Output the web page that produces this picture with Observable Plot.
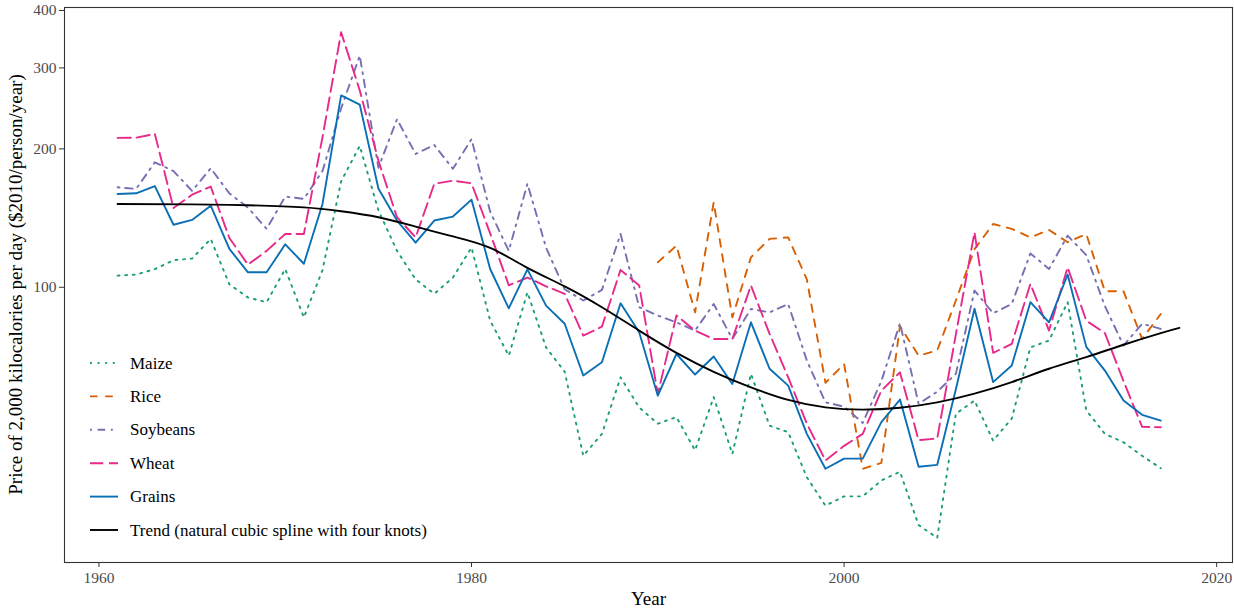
<!DOCTYPE html>
<html>
<head>
<meta charset="utf-8">
<script src="https://cdn.jsdelivr.net/npm/d3@7"></script>
<script src="https://cdn.jsdelivr.net/npm/@observablehq/plot@0.6"></script>
<style>
  html, body { margin: 0; padding: 0; background: #fff; }
  #chart { width: 1234px; height: 609px; }
</style>
</head>
<body>
<div id="chart"></div>
<script>
// ---- data ----
const years = [1961,1962,1963,1964,1965,1966,1967,1968,1969,1970,
               1971,1972,1973,1974,1975,1976,1977,1978,1979,1980,
               1981,1982,1983,1984,1985,1986,1987,1988,1989,1990,
               1991,1992,1993,1994,1995,1996,1997,1998,1999,2000,
               2001,2002,2003,2004,2005,2006,2007,2008,2009,2010,
               2011,2012,2013,2014,2015,2016,2017];

const maize = [106,106.6,109.5,114.5,115.5,127.4,101.5,95,92.8,109.6,
               86,109,170,203,147,120,104,96.8,105,122,
               84.6,71,97.5,74,65.5,43,48,63.7,54.8,50.5,
               52.2,44.2,57.7,43.4,64.8,50,48.4,38.6,33.5,35.1,
               35.1,38,39.7,30.4,28.5,53.1,56.7,46.4,51.8,74,
               76.6,92.8,54,48,46,43,40.4];

const riceYears = [1990,1991,1992,1993,1994,1995,1996,1997,1998,1999,
                   2000,2001,2002,2003,2004,2005,2006,2007,2008,2009,
                   2010,2011,2012,2013,2014,2015,2016,2017];
const rice = [113.3,123.2,88.2,153,86,116.2,127.4,128.4,104,62,
              68.1,40.3,41.5,82.3,71,72.9,93.6,121,137.3,134,
              128.4,133.3,125.3,130.6,98,98,77.2,87.5];

const soybeans = [165,163.7,187,179,162,181.5,160,149,134,157.5,
                  155.7,179,245,319,182,232,195,204,181,210,
                  146,120,168,122,99,93.6,98.7,130.6,90.5,86.8,
                  83.9,80.5,92,77.2,89.7,88.2,92,69.3,56.2,55,
                  50.7,62.5,83.5,55.8,59.3,64.8,98.4,87.8,92,118.5,
                  109.6,129.5,117.5,91,74.7,83.3,81.2];

const wheat = [211.3,211.5,215.6,148.8,159,165.6,128,112,120,130.6,
               130.6,212,358.6,268,188.6,142,128.4,167.9,170.6,168.3,
               131,101,105,100.5,96.8,78.5,82.1,109.1,100.9,58.6,
               86.8,80.5,77.2,77.2,100.9,79.2,63.7,50.5,42,45.2,
               48,59.6,65.3,46.5,46.9,79,131.7,72,75.3,101.7,
               80.5,110.5,84.6,79.5,62.5,49.7,49.6];

const grains = [159.6,160.1,166,136.8,140.1,150.5,121.2,107.8,107.8,124,
                112.5,151.8,261.5,249.6,164,139.7,125,139.7,142.5,155.1,
                109.6,90,109.4,91.2,83.3,64.3,68.7,92.3,79.8,58.1,
                71.6,64.6,70.7,61.6,83.9,66.5,61.1,48,40.3,42.4,
                42.4,50.9,57,40.7,41.1,60,89.8,62.2,67.6,92.8,
                83.9,106.6,74.2,65.9,56.7,52.8,51.3];

const trendYears  = [1961,1965,1968,1971,1973,1975,1977,1979,1981,1983,1985,1987,1989,1991,1993,1995,1997,1999,2001,2003,2005,2007,2009,2011,2013,2015,2017,2018];
const trendValues = [151.8,151.5,150.8,149.2,146.3,142,135.5,129,121.8,110.2,100.5,90.5,80.5,72,65.5,60.6,56.9,54.8,54.2,54.7,56.2,58.7,62.2,66.5,70.5,75,79.5,81.6];

const seriesNames = ["Maize","Rice","Soybeans","Wheat","Grains","Trend (natural cubic spline with four knots)"];
const seriesColors = ["#1b9e77","#d95f02","#7570b3","#e7298a","#0a6fb5","#000000"];
const seriesDash = ["1.9,5.7","7.6,7.6","1.9,5.7,7.6,5.7","13.3,5.7",null,null];

const xTicks = [1960,1980,2000,2020];
const yTicks = [100,200,300,400];

// ---- build tables ----
const toRows = (xs, vs) => xs.map((x, i) => ({year: x, value: vs[i]}));
const tables = [
  toRows(years, maize),
  toRows(riceYears, rice),
  toRows(years, soybeans),
  toRows(years, wheat),
  toRows(years, grains),
  toRows(trendYears, trendValues)
];

const lw = 1.9;
const lineMarks = tables.map((t, i) => Plot.line(t, {
  x: "year", y: "value",
  stroke: seriesColors[i],
  strokeWidth: lw,
  strokeDasharray: seriesDash[i] || undefined,
  strokeLinejoin: "round",
  curve: i === 5 ? "natural" : "linear"
}));

const chart = Plot.plot({
  width: 1234, height: 609,
  marginLeft: 64, marginRight: 2, marginTop: 7, marginBottom: 47,
  style: {fontFamily: "'Liberation Serif', 'DejaVu Serif', serif", fontSize: "15px", background: "#ffffff", color: "#4d4d4d"},
  x: {domain: [1958.15, 2020.85], label: null},
  y: {type: "log", domain: [25.2, 406], label: null},
  marks: [
    ...lineMarks,
    Plot.frame({stroke: "#333333", strokeWidth: 1.1}),
    Plot.axisX({ticks: xTicks, tickFormat: d => String(d), tickSize: 5, tickPadding: 4, stroke: "#333333", fill: "#4d4d4d", label: null, fontSize: 15.5}),
    Plot.axisY({ticks: yTicks, tickFormat: d => String(d), tickSize: 5, tickPadding: 3, stroke: "#333333", fill: "#4d4d4d", label: null, fontSize: 15.5})
  ]
});

document.getElementById("chart").appendChild(chart);

const svg = d3.select(chart);
const font = "'Liberation Serif', 'DejaVu Serif', serif";

// axis titles
svg.append("text")
  .attr("transform", "translate(15,284.5) rotate(-90)")
  .attr("text-anchor", "middle")
  .attr("dominant-baseline", "central")
  .attr("font-family", font)
  .attr("font-size", 19)
  .attr("fill", "#000")
  .text("Price of 2,000 kilocalories per day ($2010/person/year)");

svg.append("text")
  .attr("x", 648.5).attr("y", 605)
  .attr("text-anchor", "middle")
  .attr("font-family", font)
  .attr("font-size", 19)
  .attr("fill", "#000")
  .text("Year");

// legend inside the panel
const lg = svg.append("g").attr("transform", "translate(90,363)");
seriesNames.forEach((name, i) => {
  const row = lg.append("g").attr("transform", `translate(0,${i * 33.4})`);
  row.append("line")
    .attr("x1", 0).attr("x2", 28).attr("y1", 0).attr("y2", 0)
    .attr("stroke", seriesColors[i])
    .attr("stroke-width", lw)
    .attr("stroke-dasharray", seriesDash[i] || null);
  row.append("text")
    .attr("x", 40).attr("y", 0)
    .attr("text-anchor", "start")
    .attr("dominant-baseline", "central")
    .attr("font-family", font)
    .attr("font-size", 17)
    .attr("fill", "#000")
    .text(name);
});
</script>
</body>
</html>
